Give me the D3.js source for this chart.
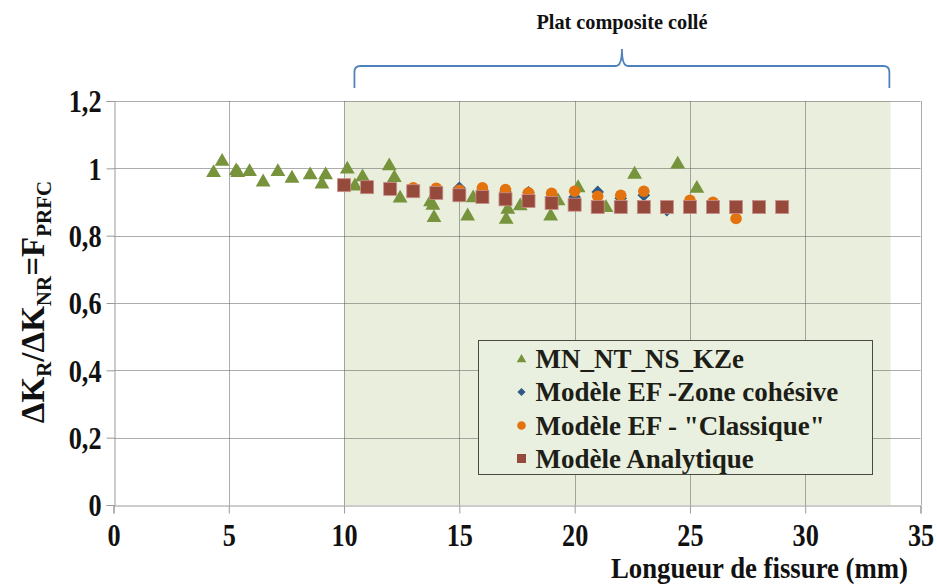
<!DOCTYPE html>
<html>
<head>
<meta charset="utf-8">
<script src="https://cdn.jsdelivr.net/npm/d3@7"></script>
<style>
  html, body { margin: 0; padding: 0; background: #ffffff; }
  svg { display: block; }
  text { font-family: "Liberation Serif", "Times New Roman", serif; font-weight: bold; }
</style>
</head>
<body>
<svg id="chart" width="937" height="586"></svg>
<script>
// Crack length (mm) and stress-intensity ratio for each data series
const triangleX = [4.34, 4.71, 5.32, 5.39, 5.90, 6.49, 7.13, 7.74, 8.53, 9.04, 9.20, 10.14, 10.47, 10.80, 11.96, 12.18, 12.43, 13.75, 13.85, 13.90, 15.36, 15.60, 17.03, 17.10, 17.64, 18.96, 19.28, 20.15, 21.36, 22.60, 24.47, 25.30];
const triangleY = [0.990, 1.023, 0.995, 0.990, 0.993, 0.962, 0.993, 0.973, 0.983, 0.956, 0.983, 1.000, 0.950, 0.977, 1.010, 0.975, 0.914, 0.903, 0.893, 0.856, 0.861, 0.915, 0.851, 0.881, 0.891, 0.861, 0.906, 0.945, 0.886, 0.985, 1.015, 0.943];

const diamondX = [10, 11, 12, 13, 14, 15, 16, 17, 18, 19, 20, 21, 22, 23, 24, 25, 26, 27];
const diamondY = [0.951, 0.946, 0.941, 0.935, 0.930, 0.942, 0.935, 0.930, 0.929, 0.915, 0.915, 0.930, 0.911, 0.920, 0.876, 0.897, 0.890, 0.878];

const circleX = [13, 14, 15, 16, 17, 18, 19, 20, 21, 22, 23, 24, 25, 26, 27];
const circleY = [0.942, 0.941, 0.935, 0.942, 0.937, 0.927, 0.926, 0.932, 0.917, 0.920, 0.932, 0.885, 0.905, 0.899, 0.851];

const squareX = [10, 11, 12, 13, 14, 15, 16, 17, 18, 19, 20, 21, 22, 23, 24, 25, 26, 27, 28, 29];
const squareY = [0.950, 0.944, 0.939, 0.932, 0.927, 0.920, 0.915, 0.908, 0.903, 0.897, 0.892, 0.885, 0.885, 0.885, 0.885, 0.885, 0.885, 0.885, 0.885, 0.885];

const seriesNames = ["MN_NT_NS_KZe", "Modèle EF -Zone cohésive", "Modèle EF - \"Classique\"", "Modèle Analytique"];
const xTicks = [0, 5, 10, 15, 20, 25, 30, 35];
const yTicks = [0, 0.2, 0.4, 0.6, 0.8, 1.0, 1.2];
const shadeRange = [10, 33.7];      // bonded composite patch zone (mm)
const braceRange = [10.45, 33.65];
const braceLabel = "Plat composite collé";
const xTitle = "Longueur de fissure (mm)";

const colors = { tri: "#77933c", dia: "#2f5a85", circ: "#e3730f", sq: "#964a3c" };

const svg = d3.select("#chart");
const plot = { left: 113.5, right: 920.5, top: 101, bottom: 505 };

const x = d3.scaleLinear().domain([0, 35]).range([plot.left, plot.right]);
const y = d3.scaleLinear().domain([0, 1.2]).range([plot.bottom, plot.top]);

// shaded patch zone
svg.append("rect")
  .attr("x", x(shadeRange[0])).attr("y", y(1.2))
  .attr("width", x(shadeRange[1]) - x(shadeRange[0]))
  .attr("height", y(0) - y(1.2))
  .attr("fill", "#e9efdc");

// gridlines
const grid = svg.append("g").attr("stroke", "rgba(90,90,90,0.5)").attr("stroke-width", 1);
grid.selectAll("line.h").data(yTicks.filter(d => d > 0)).join("line")
  .attr("x1", plot.left).attr("x2", plot.right)
  .attr("y1", d => Math.round(y(d)) + 0.5).attr("y2", d => Math.round(y(d)) + 0.5);
grid.selectAll("line.v").data(xTicks.filter(d => d > 0)).join("line")
  .attr("y1", plot.top).attr("y2", plot.bottom)
  .attr("x1", d => Math.round(x(d)) + 0.5).attr("x2", d => Math.round(x(d)) + 0.5);

// axes
const xAxis = d3.axisBottom(x).tickValues(xTicks).tickSize(8).tickFormat(d3.format("d"));
const yAxis = d3.axisLeft(y).tickValues(yTicks).tickSize(8)
  .tickFormat(d => d === 0 ? "0" : d === 1 ? "1" : d3.format(".1f")(d).replace(".", ","));

const gx = svg.append("g").attr("transform", `translate(0,${Math.round(y(0)) + 0.5})`).call(xAxis);
const gy = svg.append("g").attr("transform", `translate(${Math.round(x(0)) + 0.5},0)`).call(yAxis);
[gx, gy].forEach(g => {
  g.select(".domain").attr("stroke", "#9a9a9a");
  g.selectAll(".tick line").attr("stroke", "#9a9a9a");
  g.selectAll(".tick text").attr("fill", "#111").attr("font-size", 32);
});
gx.selectAll(".tick text").attr("y", 0).attr("dy", 0).attr("transform", "translate(0,40) scale(0.82,1)");
gy.selectAll(".tick text").attr("x", 0).attr("dy", "0.34em").attr("transform", "translate(-13,0) scale(0.82,1)");

// data marks
const tri = d3.symbol().type(d3.symbolTriangle).size(95);
const dia = d3.symbol().type(d3.symbolSquare).size(80);

svg.append("g").selectAll("path").data(d3.zip(triangleX, triangleY)).join("path")
  .attr("d", tri).attr("fill", colors.tri)
  .attr("transform", d => `translate(${x(d[0])},${y(d[1]) + 1})`);

svg.append("g").selectAll("path").data(d3.zip(diamondX, diamondY)).join("path")
  .attr("d", dia).attr("fill", colors.dia)
  .attr("transform", d => `translate(${x(d[0])},${y(d[1])}) rotate(45)`);

svg.append("g").selectAll("circle").data(d3.zip(circleX, circleY)).join("circle")
  .attr("cx", d => x(d[0])).attr("cy", d => y(d[1])).attr("r", 5.8)
  .attr("fill", colors.circ);

const sq = 13;
svg.append("g").selectAll("rect").data(d3.zip(squareX, squareY)).join("rect")
  .attr("x", d => x(d[0]) - sq / 2).attr("y", d => y(d[1]) - sq / 2)
  .attr("width", sq).attr("height", sq)
  .attr("fill", colors.sq).attr("stroke", "#c98f8a").attr("stroke-width", 0.8);

// legend
const lg = svg.append("g").attr("transform", "translate(478.5,340.5)");
lg.append("rect").attr("width", 394).attr("height", 134)
  .attr("fill", "#eaf0df").attr("stroke", "#4a4a44").attr("stroke-width", 1);
const rowY = [18, 51.5, 85, 118];
const legSyms = [
  g => g.append("path").attr("d", d3.symbol().type(d3.symbolTriangle).size(40)).attr("fill", colors.tri).attr("transform", "translate(0,1)"),
  g => g.append("path").attr("d", d3.symbol().type(d3.symbolSquare).size(34)).attr("fill", colors.dia).attr("transform", "rotate(45)"),
  g => g.append("circle").attr("r", 4.3).attr("fill", colors.circ),
  g => g.append("rect").attr("x", -4.5).attr("y", -4.5).attr("width", 9).attr("height", 9).attr("fill", colors.sq)
];
seriesNames.forEach((name, i) => {
  const row = lg.append("g").attr("transform", `translate(43,${rowY[i]})`);
  legSyms[i](row);
  row.append("text").attr("x", 14).attr("dy", "0.35em")
    .attr("font-size", 27).attr("fill", "#1c1e17").text(name);
});

// axis titles
svg.append("text").attr("x", 908).attr("y", 578).attr("text-anchor", "end")
  .attr("font-size", 29).attr("textLength", 297).attr("lengthAdjust", "spacingAndGlyphs")
  .attr("fill", "#111").text(xTitle);

const yt = svg.append("text").attr("transform", "translate(44,302) rotate(-90)")
  .attr("text-anchor", "middle").attr("font-size", 33).attr("fill", "#111");
yt.append("tspan").text("ΔK");
yt.append("tspan").attr("font-size", 21).attr("dy", 7).text("R");
yt.append("tspan").attr("dy", -7).text("/ΔK");
yt.append("tspan").attr("font-size", 21).attr("dy", 7).text("NR");
yt.append("tspan").attr("dy", -7).text("=F");
yt.append("tspan").attr("font-size", 21).attr("dy", 7).text("PRFC");

// brace over the patch zone
const bx0 = x(braceRange[0]), bx1 = x(braceRange[1]), bm = (bx0 + bx1) / 2;
const byLine = 66, byEnd = 88, byTip = 49, r = 6;
svg.append("path")
  .attr("d", `M${bx0},${byEnd} L${bx0},${byLine + r} Q${bx0},${byLine} ${bx0 + r},${byLine}
              L${bm - r},${byLine} Q${bm},${byLine} ${bm},${byTip}
              Q${bm},${byLine} ${bm + r},${byLine} L${bx1 - r},${byLine}
              Q${bx1},${byLine} ${bx1},${byLine + r} L${bx1},${byEnd}`)
  .attr("fill", "none").attr("stroke", "#4f81bd").attr("stroke-width", 1.8);

svg.append("text").attr("x", bm).attr("y", 29).attr("text-anchor", "middle")
  .attr("font-size", 21).attr("textLength", 171).attr("lengthAdjust", "spacingAndGlyphs")
  .attr("fill", "#111").text(braceLabel);
</script>
</body>
</html>
